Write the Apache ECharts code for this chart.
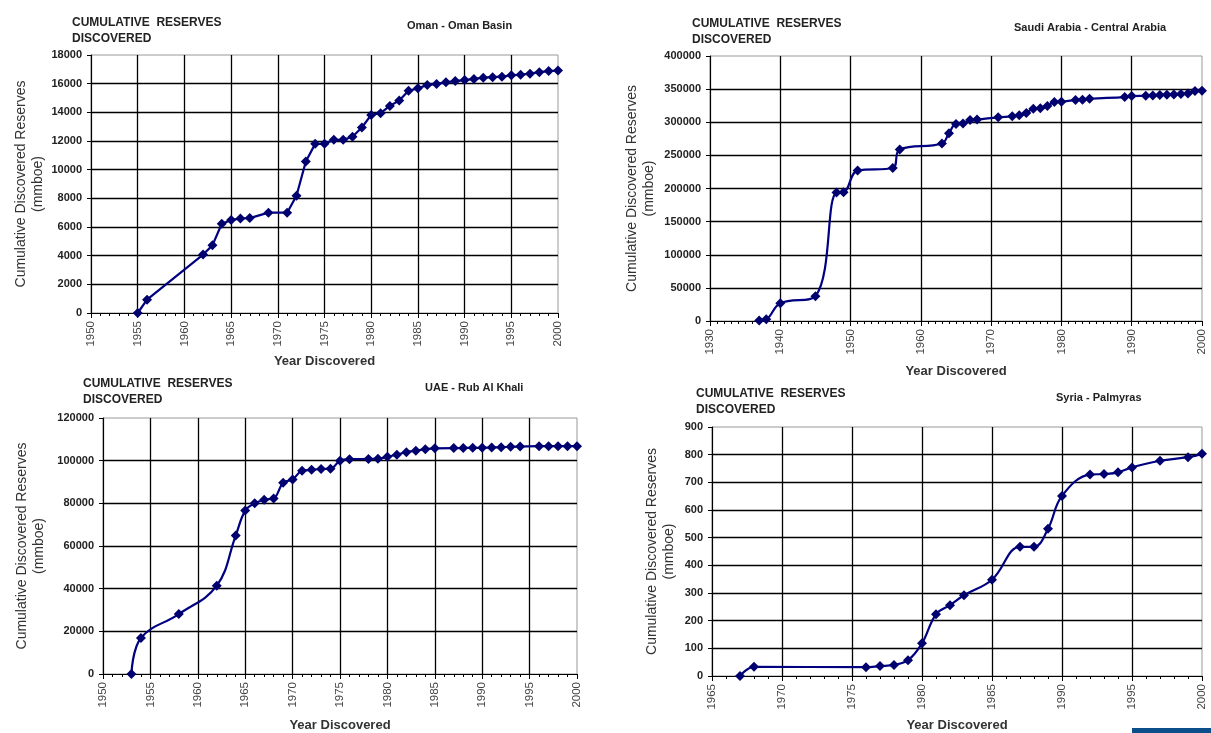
<!DOCTYPE html>
<html>
<head>
<meta charset="utf-8">
<script src="https://cdn.jsdelivr.net/npm/echarts@6/dist/echarts.min.js"></script>
<style>
html,body{margin:0;padding:0;background:#fff;}
#c{width:1211px;height:733px;}
</style>
</head>
<body>
<div id="c"></div>
<script>
// ---- Data ----
const omanYears  = [1955,1956,1962,1963,1964,1965,1966,1967,1969,1971,1972,1973,1974,1975,1976,1977,1978,1979,1980,1981,1982,1983,1984,1985,1986,1987,1988,1989,1990,1991,1992,1993,1994,1995,1996,1997,1998,1999,2000];
const omanValues = [0,930,4080,4720,6230,6480,6600,6620,7000,7000,8180,10570,11800,11800,12080,12080,12300,12940,13820,13940,14450,14820,15500,15680,15900,15980,16100,16180,16250,16330,16420,16450,16490,16580,16630,16700,16800,16880,16920];

const saudiYears  = [1937,1938,1940,1945,1948,1949,1951,1956,1957,1963,1964,1965,1966,1967,1968,1971,1973,1974,1975,1976,1977,1978,1979,1980,1982,1983,1984,1989,1990,1992,1993,1994,1995,1996,1997,1998,1999,2000];
const saudiValues = [800,2500,26800,37500,194000,194500,227000,231000,259000,268000,283500,297500,298000,303500,304000,307500,309000,310500,314000,320500,321000,324500,330500,331000,333500,334000,335500,338000,339500,340000,340500,341000,341500,342000,342500,343500,347000,347500];

const uaeYears  = [1953,1954,1958,1962,1964,1965,1966,1967,1968,1969,1970,1971,1972,1973,1974,1975,1976,1978,1979,1980,1981,1982,1983,1984,1985,1987,1988,1989,1990,1991,1992,1993,1994,1996,1997,1998,1999,2000];
const uaeValues = [0,16900,28100,41400,64900,76600,80000,81700,82300,89600,91200,95300,95700,96100,96200,100000,100700,100800,100900,101800,102800,104000,104700,105400,105800,105900,105900,106000,106000,106200,106300,106500,106600,106800,106800,106800,106800,106800];

const syriaYears  = [1967,1968,1976,1977,1978,1979,1980,1981,1982,1983,1985,1987,1988,1989,1990,1992,1993,1994,1995,1997,1999,2000];
const syriaValues = [0,33,32,36,40,57,118,223,256,292,348,467,467,532,651,728,730,736,754,778,791,803];

const omanYTicks  = {min:0, max:18000, interval:2000};
const saudiYTicks = {min:0, max:400000, interval:50000};
const uaeYTicks   = {min:0, max:120000, interval:20000};
const syriaYTicks = {min:0, max:900, interval:100};

const omanXTicks  = {min:1950, max:2000, interval:5, minor:5};
const saudiXTicks = {min:1930, max:2000, interval:10, minor:10};
const uaeXTicks   = {min:1950, max:2000, interval:5, minor:5};
const syriaXTicks = {min:1965, max:2000, interval:5, minor:5};

const headingText = 'CUMULATIVE  RESERVES\nDISCOVERED';
const regionNames = ['Oman - Oman Basin','Saudi Arabia - Central Arabia','UAE - Rub Al Khali','Syria - Palmyras'];
const yName = 'Cumulative Discovered Reserves\n(mmboe)';
const xName = 'Year Discovered';

// ---- Layout ----
const FONT = '"Liberation Sans", Arial, sans-serif';
const NAVY = '#000080';
const grids = [
  {left:91,  top:55,  width:467, height:258},
  {left:710, top:56,  width:492, height:265},
  {left:103, top:418, width:474, height:260},
  {left:712, top:427, width:490, height:253}
].map(g=>Object.assign(g,{show:true, borderColor:'#999', borderWidth:1, backgroundColor:'#fff'}));
const yNameGaps = [44, 52, 55, 34];
const xNameGaps = [42, 44, 45, 43];
const headPos = [[72,15],[692,16],[83,376],[696,386]];
const regionPos = [[407,20],[1014,22],[425,382],[1056,392]];
const xT = [omanXTicks, saudiXTicks, uaeXTicks, syriaXTicks];
const yT = [omanYTicks, saudiYTicks, uaeYTicks, syriaYTicks];
const smoothFlags = [false, 0.4, 0.4, 0.4];
const datasets = [
  omanYears.map((y,i)=>[y, omanValues[i]]),
  saudiYears.map((y,i)=>[y, saudiValues[i]]),
  uaeYears.map((y,i)=>[y, uaeValues[i]]),
  syriaYears.map((y,i)=>[y, syriaValues[i]])
];

const xAxes = xT.map((t,i)=>({
  type:'value', gridIndex:i, min:t.min, max:t.max, interval:t.interval,
  name:xName, nameLocation:'middle', nameGap:xNameGaps[i],
  nameTextStyle:{fontFamily:FONT, fontSize:13, fontWeight:'bold', color:'#333'},
  axisLine:{show:true, onZero:false, lineStyle:{color:'#000', width:1.2}},
  axisTick:{show:true, inside:false, length:5, lineStyle:{color:'#000'}},
  minorTick:{show:true, splitNumber:t.minor, length:3, lineStyle:{color:'#000'}},
  splitLine:{show:true, showMinLine:false, showMaxLine:false, lineStyle:{color:'#000', width:1.3}},
  axisLabel:{rotate:90, margin:8, fontFamily:FONT, fontSize:11.5, color:'#444', formatter:v=>String(v)}
}));
const yAxes = yT.map((t,i)=>({
  type:'value', gridIndex:i, min:t.min, max:t.max, interval:t.interval,
  name:yName, nameLocation:'middle', nameGap:yNameGaps[i], nameRotate:90,
  nameTextStyle:{fontFamily:FONT, fontSize:14, color:'#333', lineHeight:17},
  axisLine:{show:true, lineStyle:{color:'#000', width:1.2}},
  axisTick:{show:true, inside:false, length:4, lineStyle:{color:'#000'}},
  splitLine:{show:true, showMinLine:false, showMaxLine:false, lineStyle:{color:'#000', width:1.3}},
  axisLabel:{margin:9, fontFamily:FONT, fontSize:11, fontWeight:'bold', color:'#222', formatter:v=>String(v)}
}));
const series = datasets.map((d,i)=>({
  type:'line', xAxisIndex:i, yAxisIndex:i, data:d,
  smooth:smoothFlags[i],
  symbol:'diamond', symbolSize:10,
  lineStyle:{color:NAVY, width:2.2},
  itemStyle:{color:'#00006e'},
  animation:false
}));
const titles = [];
headPos.forEach((p,i)=>{
  titles.push({text:headingText, left:p[0], top:p[1], padding:0,
    textStyle:{fontFamily:FONT, fontSize:12, fontWeight:'bold', color:'#222', lineHeight:16}});
  titles.push({text:regionNames[i], left:regionPos[i][0], top:regionPos[i][1], padding:0,
    textStyle:{fontFamily:FONT, fontSize:11, fontWeight:'bold', color:'#222'}});
});

const chart = echarts.init(document.getElementById('c'));
chart.setOption({
  backgroundColor:'#fff',
  animation:false,
  title:titles,
  grid:grids,
  xAxis:xAxes,
  yAxis:yAxes,
  series:series,
  graphic:[{type:'rect', left:1132, top:728, shape:{width:79, height:5}, style:{fill:'#0b4f8a'}}]
});
</script>
</body>
</html>
